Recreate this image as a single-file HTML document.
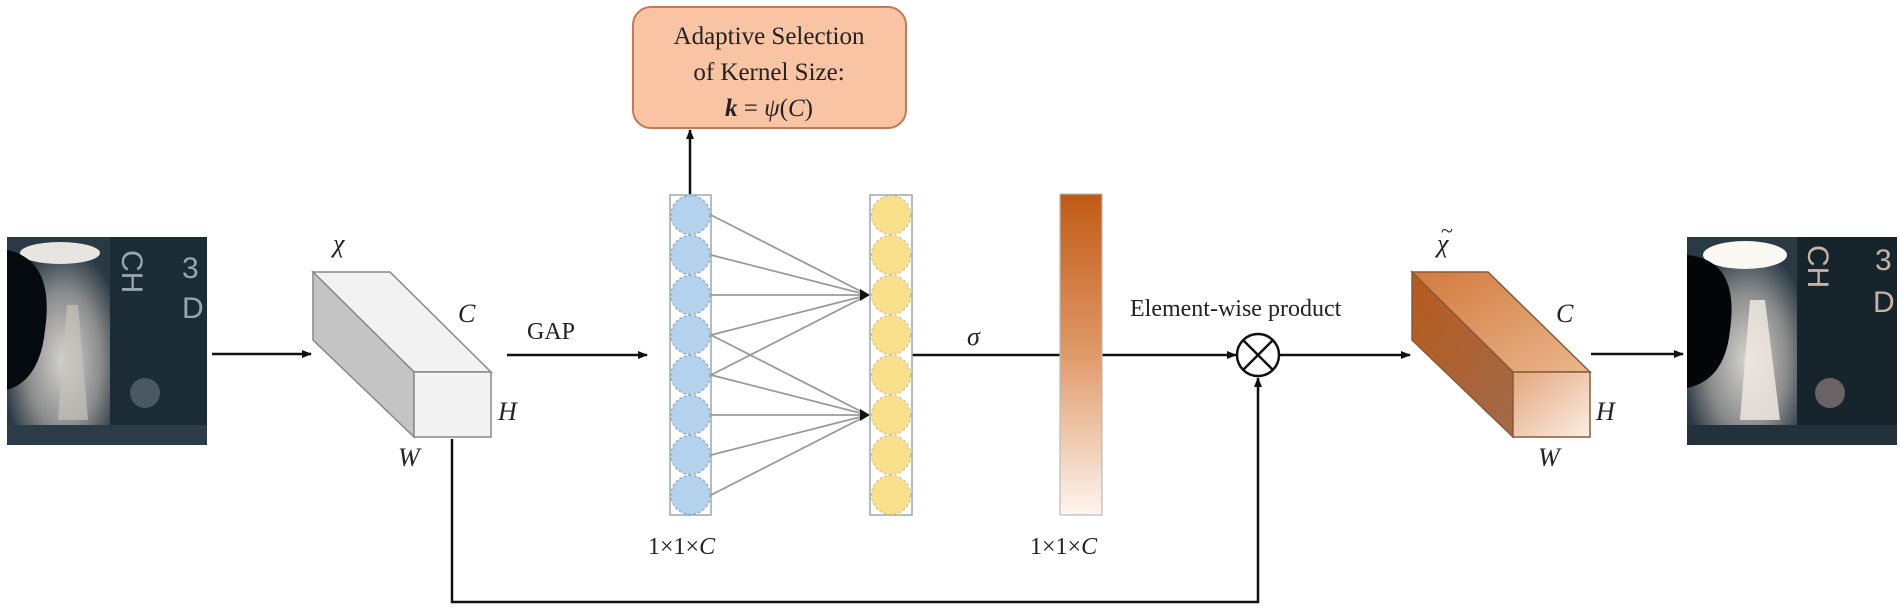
<!DOCTYPE html>
<html><head><meta charset="utf-8"><style>
html,body{margin:0;padding:0;background:#fff;}
svg{display:block;}
text{font-family:"Liberation Serif",serif;fill:#222;}
.it{font-style:italic;}
</style></head><body>
<svg width="1900" height="609" viewBox="0 0 1900 609" xmlns="http://www.w3.org/2000/svg">
<defs>
<marker id="ah" markerWidth="10" markerHeight="8" refX="9" refY="4" orient="auto" markerUnits="userSpaceOnUse"><path d="M0,0 L10,4 L0,8 Z" fill="#111"/></marker>
<linearGradient id="bar" x1="0" y1="0" x2="0" y2="1"><stop offset="0" stop-color="#c05a14"/><stop offset="0.5" stop-color="#e09a6a"/><stop offset="1" stop-color="#fdf5ef"/></linearGradient>
<linearGradient id="otop" x1="0" y1="0" x2="1" y2="1"><stop offset="0" stop-color="#d27a3c"/><stop offset="1" stop-color="#eab68e"/></linearGradient>
<linearGradient id="oleft" x1="0" y1="0" x2="1" y2="1"><stop offset="0" stop-color="#b85a1c"/><stop offset="1" stop-color="#a06a4a"/></linearGradient>
<linearGradient id="ofront" x1="0" y1="0" x2="1" y2="1"><stop offset="0" stop-color="#e3a67c"/><stop offset="1" stop-color="#fbeee4"/></linearGradient>
<radialGradient id="glow" cx="0.55" cy="0.65" r="0.6"><stop offset="0" stop-color="#d8d4ce"/><stop offset="0.6" stop-color="#8a8c8c"/><stop offset="1" stop-color="#2a3a44"/></radialGradient>
</defs>

<!-- left photo -->
<g>
<rect x="7" y="237" width="200" height="208" fill="#1b2c36"/>
<rect x="7" y="237" width="103" height="190" fill="url(#glow)"/>
<ellipse cx="60" cy="253" rx="40" ry="11" fill="#e8e4e0"/>
<path d="M7,250 Q55,260 45,330 Q40,380 7,390 Z" fill="#050a0e"/>
<path d="M67,305 L78,305 L88,420 L58,420 Z" fill="#c8c3bd" opacity="0.7"/>
<rect x="7" y="425" width="200" height="20" fill="#2a3c48"/>
<circle cx="145" cy="393" r="15" fill="#4a5862"/>
<text x="0" y="0" transform="translate(122,250) rotate(90)" font-size="30" style="font-family:'Liberation Sans',sans-serif;fill:#9aa6ad">CH</text>
<text x="182" y="278" font-size="30" style="font-family:'Liberation Sans',sans-serif;fill:#9aa6ad">3</text>
<text x="182" y="318" font-size="30" style="font-family:'Liberation Sans',sans-serif;fill:#9aa6ad">D</text>
</g>

<!-- right photo -->
<g>
<rect x="1687" y="237" width="210" height="208" fill="#16242c"/>
<rect x="1687" y="237" width="110" height="190" fill="url(#glow)"/>
<ellipse cx="1745" cy="255" rx="42" ry="14" fill="#fbf8f4"/>
<path d="M1687,255 Q1740,260 1730,330 Q1725,380 1687,388 Z" fill="#030608"/>
<path d="M1750,300 L1765,300 L1780,420 L1740,420 Z" fill="#eee8e2" opacity="0.85"/>
<rect x="1687" y="425" width="210" height="20" fill="#22323c"/>
<circle cx="1830" cy="393" r="15" fill="#6a6264"/>
<text x="0" y="0" transform="translate(1808,245) rotate(90)" font-size="30" style="font-family:'Liberation Sans',sans-serif;fill:#c9b2a4">CH</text>
<text x="1875" y="270" font-size="30" style="font-family:'Liberation Sans',sans-serif;fill:#c9b2a4">3</text>
<text x="1873" y="312" font-size="30" style="font-family:'Liberation Sans',sans-serif;fill:#c9b2a4">D</text>
</g>

<!-- arrows main line -->
<g stroke="#111" stroke-width="2.5" fill="none">
<line x1="212" y1="354" x2="311" y2="354" marker-end="url(#ah)"/>
<line x1="507" y1="355" x2="647" y2="355" marker-end="url(#ah)"/>
<line x1="912" y1="355" x2="1060" y2="355"/>
<line x1="1102" y1="355" x2="1236" y2="355" marker-end="url(#ah)"/>
<line x1="1279" y1="355" x2="1410" y2="355" marker-end="url(#ah)"/>
<line x1="1591" y1="354" x2="1683" y2="354" marker-end="url(#ah)"/>
<polyline points="452,439 452,602 1258,602 1258,378" marker-end="url(#ah)"/>
<line x1="690" y1="194" x2="690" y2="130" marker-end="url(#ah)"/>
</g>

<!-- gray cuboid -->
<g stroke="#888" stroke-width="1.5">
<polygon points="313,272 390,272 491,372 414,372" fill="#f2f2f2"/>
<polygon points="313,272 414,372 414,437 313,340" fill="#c4c4c4"/>
<rect x="414" y="372" width="77" height="65" fill="#f3f3f3"/>
</g>
<text x="333" y="252" font-size="26" class="it">χ</text>
<text x="458" y="322" font-size="26" class="it">C</text>
<text x="498" y="420" font-size="26" class="it">H</text>
<text x="398" y="466" font-size="26" class="it">W</text>
<text x="527" y="339" font-size="24">GAP</text>

<!-- orange cuboid -->
<g stroke="#8a5a3a" stroke-width="1.5">
<polygon points="1412,272 1488,272 1590,372 1513,372" fill="url(#otop)"/>
<polygon points="1412,272 1513,372 1513,437 1412,340" fill="url(#oleft)"/>
<rect x="1513" y="372" width="77" height="65" fill="url(#ofront)"/>
</g>
<text x="1437" y="252" font-size="26" class="it">χ</text>
<text x="1441" y="238" font-size="22">~</text>
<text x="1556" y="322" font-size="26" class="it">C</text>
<text x="1596" y="420" font-size="26" class="it">H</text>
<text x="1538" y="466" font-size="26" class="it">W</text>

<!-- adaptive box -->
<rect x="633" y="7" width="273" height="121" rx="18" fill="#f8c4a4" stroke="#c47a54" stroke-width="2"/>
<text x="769" y="44" font-size="25" text-anchor="middle">Adaptive Selection</text>
<text x="769" y="80" font-size="25" text-anchor="middle">of Kernel Size:</text>
<text x="769" y="116" font-size="25" text-anchor="middle"><tspan class="it" font-weight="bold">k</tspan> = <tspan class="it">ψ</tspan>(<tspan class="it">C</tspan>)</text>

<!-- connection lines -->
<g stroke="#999" stroke-width="1.8">
<line x1="711" y1="215" x2="868" y2="295"/>
<line x1="711" y1="255" x2="868" y2="295"/>
<line x1="711" y1="295" x2="868" y2="295"/>
<line x1="711" y1="335" x2="868" y2="295"/>
<line x1="711" y1="375" x2="868" y2="295"/>
<line x1="711" y1="335" x2="868" y2="415"/>
<line x1="711" y1="375" x2="868" y2="415"/>
<line x1="711" y1="415" x2="868" y2="415"/>
<line x1="711" y1="455" x2="868" y2="415"/>
<line x1="711" y1="495" x2="868" y2="415"/>
</g>
<path d="M860,289 L870,295 L860,301 Z" fill="#111"/>
<path d="M860,409 L870,415 L860,421 Z" fill="#111"/>

<!-- blue column -->
<rect x="670" y="195" width="41" height="320" fill="#fff" stroke="#9aa" stroke-width="1.5"/>
<g fill="#b4d2ee" stroke="#8aa8c0" stroke-width="1.2" stroke-dasharray="3,2">
<circle cx="690.5" cy="215" r="19.5"/><circle cx="690.5" cy="255" r="19.5"/><circle cx="690.5" cy="295" r="19.5"/><circle cx="690.5" cy="335" r="19.5"/>
<circle cx="690.5" cy="375" r="19.5"/><circle cx="690.5" cy="415" r="19.5"/><circle cx="690.5" cy="455" r="19.5"/><circle cx="690.5" cy="495" r="19.5"/>
</g>
<!-- yellow column -->
<rect x="870" y="195" width="42" height="320" fill="#fff" stroke="#9aa" stroke-width="1.5"/>
<g fill="#fbe08c" stroke="#d8c080" stroke-width="1.2" stroke-dasharray="3,2">
<circle cx="891" cy="215" r="19.5"/><circle cx="891" cy="255" r="19.5"/><circle cx="891" cy="295" r="19.5"/><circle cx="891" cy="335" r="19.5"/>
<circle cx="891" cy="375" r="19.5"/><circle cx="891" cy="415" r="19.5"/><circle cx="891" cy="455" r="19.5"/><circle cx="891" cy="495" r="19.5"/>
</g>
<text x="648" y="554" font-size="24">1×1×<tspan class="it">C</tspan></text>
<text x="967" y="345" font-size="26" class="it">σ</text>

<!-- orange bar -->
<rect x="1060" y="194" width="42" height="321" fill="url(#bar)" stroke="#bbb" stroke-width="1.2"/>
<text x="1030" y="554" font-size="24">1×1×<tspan class="it">C</tspan></text>

<!-- product -->
<text x="1130" y="316" font-size="24">Element-wise product</text>
<circle cx="1258" cy="355" r="21" fill="#fff" stroke="#111" stroke-width="2.5"/>
<line x1="1243" y1="340" x2="1273" y2="370" stroke="#111" stroke-width="2.5"/>
<line x1="1273" y1="340" x2="1243" y2="370" stroke="#111" stroke-width="2.5"/>
</svg>
</body></html>
